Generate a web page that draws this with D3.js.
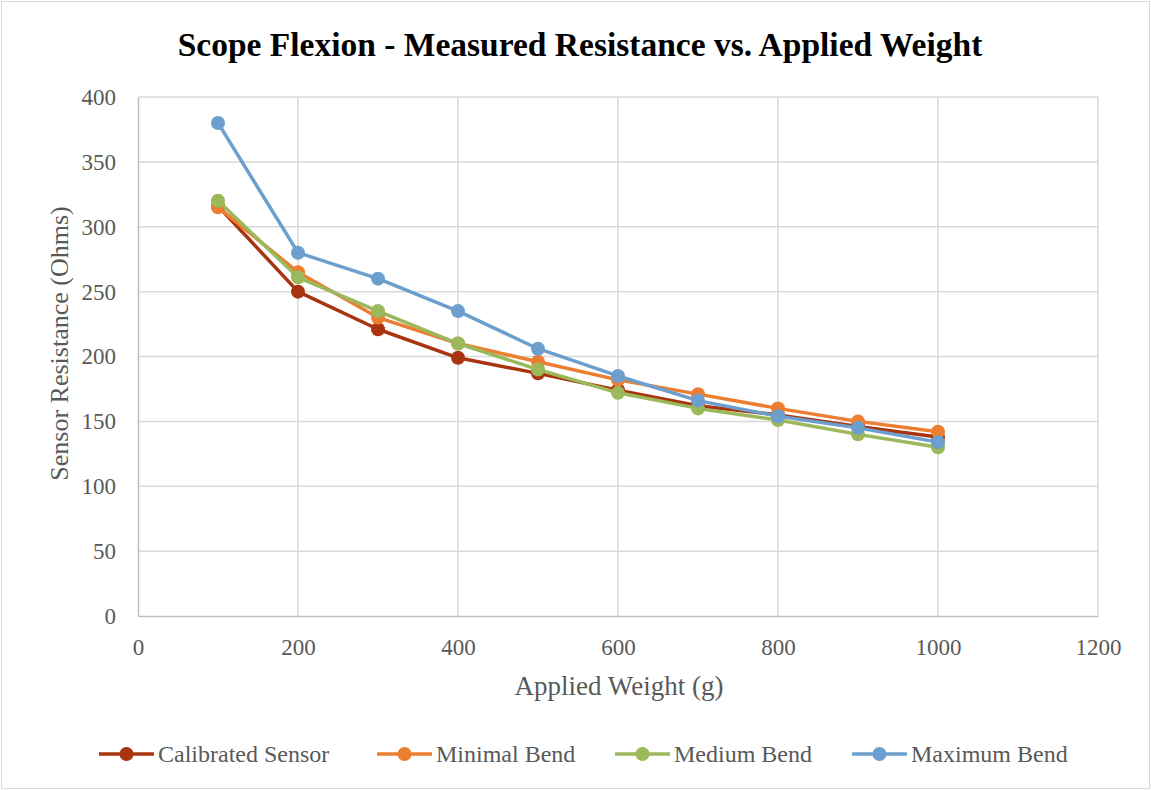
<!DOCTYPE html>
<html lang="en">
<head>
<meta charset="utf-8">
<title>Scope Flexion</title>
<style>
  body { margin: 0; background: #fff; }
  svg { display: block; }
  text { font-family: "Liberation Serif", "DejaVu Serif", serif; }
</style>
<script src="https://d3js.org/d3.v7.min.js"></script>
</head>
<body>
<script>
  let weights = [100, 200, 300, 400, 500, 600, 700, 800, 900, 1000]
  let calibrated = [316, 250, 221, 199, 187, 174, 162, 155, 146, 138]
  let minimal = [315, 265, 230, 210, 196, 182, 171, 160, 150, 142]
  let medium = [320, 261, 235, 210, 190, 172, 160, 151, 140, 130]
  let maximum = [380, 280, 260, 235, 206, 185, 166, 154, 145, 134]
  let seriesNames = ["Calibrated Sensor", "Minimal Bend", "Medium Bend", "Maximum Bend"]
  let seriesColors = ["#a83410", "#ec7e32", "#9bb85b", "#6c9fcd"]
  let xTicks = [0, 200, 400, 600, 800, 1000, 1200]
  let yTicks = [0, 50, 100, 150, 200, 250, 300, 350, 400]

  let width = 1151
  let height = 790
  let plotLeft = 138, plotRight = 1098, plotTop = 97, plotBottom = 616

  let svg = d3.select("body").append("svg")
    .attr("width", width)
    .attr("height", height)

  svg.append("rect")
    .attr("x", 1.5).attr("y", 1.5)
    .attr("width", width - 3).attr("height", height - 3)
    .attr("fill", "#fff").attr("stroke", "#d9d9d9")

  let xScale = d3.scaleLinear().domain([0, 1200]).range([plotLeft, plotRight])
  let yScale = d3.scaleLinear().domain([0, 400]).range([plotBottom, plotTop])

  // grid
  svg.append("g").selectAll("line").data(xTicks.slice(1)).enter().append("line")
    .attr("x1", d => xScale(d)).attr("x2", d => xScale(d))
    .attr("y1", plotTop).attr("y2", plotBottom)
    .attr("stroke", "#d9d9d9").attr("stroke-width", 1.5)
  svg.append("g").selectAll("line").data(yTicks.slice(1)).enter().append("line")
    .attr("x1", plotLeft).attr("x2", plotRight)
    .attr("y1", d => yScale(d)).attr("y2", d => yScale(d))
    .attr("stroke", "#d9d9d9").attr("stroke-width", 1.5)

  let xAxis = d3.axisBottom(xScale).tickValues(xTicks).tickFormat(d => d).tickSize(0).tickPadding(19)
  let yAxis = d3.axisLeft(yScale).tickValues(yTicks).tickFormat(d => d).tickSize(0).tickPadding(22)

  let gx = svg.append("g").attr("transform", `translate(0,${plotBottom})`).call(xAxis)
  let gy = svg.append("g").attr("transform", `translate(${plotLeft},0)`).call(yAxis)
  ;[gx, gy].forEach(g => {
    g.select(".domain").attr("stroke", "#bfbfbf").attr("stroke-width", 1.5)
    g.selectAll("text")
      .attr("fill", "#595959")
      .attr("font-size", 23)
      .style("font-family", "'Liberation Serif', serif")
  })
  gx.selectAll("text").attr("dy", "0.85em")

  // title
  svg.append("text")
    .attr("x", 580).attr("y", 56)
    .attr("text-anchor", "middle")
    .attr("font-size", 33.5).attr("font-weight", "bold")
    .attr("fill", "#000")
    .text("Scope Flexion - Measured Resistance vs. Applied Weight")

  svg.append("text")
    .attr("x", 619).attr("y", 695)
    .attr("text-anchor", "middle")
    .attr("font-size", 27).attr("fill", "#595959")
    .text("Applied Weight (g)")

  svg.append("text")
    .attr("transform", `translate(68,${(plotTop + plotBottom) / 2 - 13}) rotate(-90)`)
    .attr("text-anchor", "middle")
    .attr("font-size", 26).attr("fill", "#595959")
    .text("Sensor Resistance (Ohms)")

  let allSeries = [calibrated, minimal, medium, maximum]
  let line = d3.line()
    .x((d, i) => xScale(weights[i]))
    .y(d => yScale(d))

  allSeries.forEach((vals, s) => {
    let g = svg.append("g")
    g.append("path")
      .attr("d", line(vals))
      .attr("fill", "none")
      .attr("stroke", seriesColors[s])
      .attr("stroke-width", 3.5)
      .attr("stroke-linejoin", "round")
    g.selectAll("circle").data(vals).enter().append("circle")
      .attr("cx", (d, i) => xScale(weights[i]))
      .attr("cy", d => yScale(d))
      .attr("r", 7)
      .attr("fill", seriesColors[s])
  })

  // legend
  let legendX = [99, 377, 615, 852]
  let legend = svg.append("g").attr("transform", "translate(0,754)")
  seriesNames.forEach((name, s) => {
    let g = legend.append("g").attr("transform", `translate(${legendX[s]},0)`)
    g.append("line").attr("x1", 0).attr("x2", 55).attr("y1", 0).attr("y2", 0)
      .attr("stroke", seriesColors[s]).attr("stroke-width", 3.5)
    g.append("circle").attr("cx", 27.5).attr("cy", 0).attr("r", 7).attr("fill", seriesColors[s])
    g.append("text").attr("x", 59).attr("y", 8)
      .attr("font-size", 24).attr("fill", "#595959")
      .text(name)
  })
</script>
</body>
</html>
